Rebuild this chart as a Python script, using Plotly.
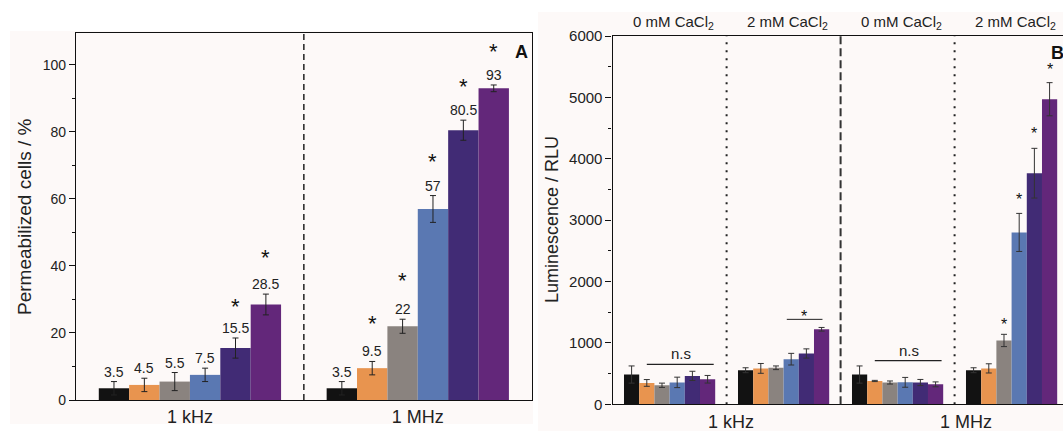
import plotly.graph_objects as go

# ---------------- data ----------------
series_names = ["Control", "Level 1", "Level 2", "Level 3", "Level 4", "Level 5"]
series_colors = ["#121212", "#e8944f", "#8a837f", "#5a78b2", "#412b75", "#63277a"]

# Panel A: permeabilized cells (%)
freq_labels = ["1 kHz", "1 MHz"]
perm_black = [3.5, 3.5]
perm_orange = [4.5, 9.5]
perm_gray = [5.5, 22]
perm_blue = [7.5, 57]
perm_navy = [15.5, 80.5]
perm_purple = [28.5, 93]
perm_err_black = [2.0, 2.0]
perm_err_orange = [2.0, 2.0]
perm_err_gray = [2.7, 2.1]
perm_err_blue = [2.0, 4.0]
perm_err_navy = [3.0, 3.0]
perm_err_purple = [3.1, 1.0]

# Panel B: luminescence (RLU)
lum_groups = ["1 kHz 0 mM", "1 kHz 2 mM", "1 MHz 0 mM", "1 MHz 2 mM"]
lum_black = [485, 555, 485, 555]
lum_orange = [348, 585, 380, 585]
lum_gray = [310, 595, 355, 1040]
lum_blue = [357, 735, 358, 2800]
lum_navy = [463, 828, 355, 3765]
lum_purple = [408, 1222, 325, 4970]
lum_err_black = [140, 40, 140, 40]
lum_err_orange = [55, 80, 10, 75]
lum_err_gray = [35, 30, 25, 100]
lum_err_blue = [85, 95, 80, 310]
lum_err_navy = [75, 75, 50, 405]
lum_err_purple = [62, 30, 40, 270]
top_labels = ["0 mM CaCl<sub>2</sub>", "2 mM CaCl<sub>2</sub>", "0 mM CaCl<sub>2</sub>", "2 mM CaCl<sub>2</sub>"]
freq_labels_b = ["1 kHz", "1 MHz"]

perm_vals = [perm_black, perm_orange, perm_gray, perm_blue, perm_navy, perm_purple]
perm_errs = [perm_err_black, perm_err_orange, perm_err_gray, perm_err_blue, perm_err_navy, perm_err_purple]
lum_vals = [lum_black, lum_orange, lum_gray, lum_blue, lum_navy, lum_purple]
lum_errs = [lum_err_black, lum_err_orange, lum_err_gray, lum_err_blue, lum_err_navy, lum_err_purple]

# ---------------- layout helpers ----------------
W, H = 1063, 431
FONT = "Arial, 'Liberation Sans', sans-serif"
BG = "#fdf9f8"


def px(x):
    return x / W


def py(y):
    return 1 - y / H


BARGAP = 0.2
NS = 6


def off(i):
    w = (1 - BARGAP) / NS
    return -(1 - BARGAP) / 2 + w * (i + 0.5)


fig = go.Figure()

for i in range(NS):
    fig.add_trace(go.Bar(
        x=freq_labels, y=perm_vals[i], name=series_names[i],
        marker=dict(color=series_colors[i], line=dict(width=0)),
        error_y=dict(type="data", array=perm_errs[i], color="#222222", thickness=1, width=3),
        xaxis="x", yaxis="y", showlegend=False))

for i in range(NS):
    fig.add_trace(go.Bar(
        x=lum_groups, y=lum_vals[i], name=series_names[i],
        marker=dict(color=series_colors[i], line=dict(width=0)),
        error_y=dict(type="data", array=lum_errs[i], color="#333333", thickness=1, width=3),
        xaxis="x2", yaxis="y2", showlegend=False))

annotations = []
# value labels panel A
for i in range(NS):
    for g in range(len(freq_labels)):
        annotations.append(dict(
            x=g + off(i), y=perm_vals[i][g] + perm_errs[i][g], xref="x", yref="y",
            text=f"{perm_vals[i][g]:g}", showarrow=False, xanchor="center", yanchor="bottom", yshift=0,
            font=dict(size=14, color="#222222", family=FONT)))

# stars panel A: (group, series, y)
stars_a = [(0, 4, 29.5), (0, 5, 44.1), (1, 1, 24.4), (1, 2, 37.2), (1, 3, 72.6), (1, 4, 94.9), (1, 5, 105.5)]
for g, i, y in stars_a:
    annotations.append(dict(x=g + off(i), y=y, xref="x", yref="y", text="*", showarrow=False,
                            xanchor="center", yanchor="middle", yshift=-5,
                            font=dict(size=22, color="#111111", family=FONT)))

# stars panel B
stars_b = [(1, 4, 1482), (3, 2, 1345), (3, 3, 3381), (3, 4, 4456), (3, 5, 5498)]
for g, i, y in stars_b:
    annotations.append(dict(x=g + off(i) + (0.0 if g == 3 else -0.02), y=y, xref="x2", yref="y2", text="*",
                            showarrow=False, xanchor="center", yanchor="middle", yshift=-3,
                            font=dict(size=16, color="#111111", family=FONT)))

# n.s labels
for g, y in [(0, 830), (2, 884)]:
    annotations.append(dict(x=g + 0.1, y=y, xref="x2", yref="y2", text="n.s", showarrow=False,
                            xanchor="center", yanchor="middle", font=dict(size=15, color="#222222", family=FONT)))

# top labels panel B
for g, t in enumerate(top_labels):
    annotations.append(dict(x=g + 0.03, y=py(22.7), xref="x2", yref="paper", text=t, showarrow=False,
                            xanchor="center", yanchor="middle", font=dict(size=15, color="#222222", family=FONT)))

# bottom labels panel B
for x, t in zip([0.535, 2.6], freq_labels_b):
    annotations.append(dict(x=x, y=py(422), xref="x2", yref="paper", text=t, showarrow=False,
                            xanchor="center", yanchor="middle", font=dict(size=18, color="#222222", family=FONT)))

# axis titles
annotations.append(dict(x=px(24), y=py(217), xref="paper", yref="paper", text="Permeabilized cells / %",
                        textangle=-90, showarrow=False, xanchor="center", yanchor="middle",
                        font=dict(size=19, color="#222222", family=FONT)))
annotations.append(dict(x=px(552), y=py(220), xref="paper", yref="paper", text="Luminescence / RLU",
                        textangle=-90, showarrow=False, xanchor="center", yanchor="middle",
                        font=dict(size=18, color="#222222", family=FONT)))
# panel letters
annotations.append(dict(x=px(521), y=py(52), xref="paper", yref="paper", text="<b>A</b>", showarrow=False,
                        xanchor="center", yanchor="middle", font=dict(size=18, color="#111111", family=FONT)))
annotations.append(dict(x=px(1057), y=py(53), xref="paper", yref="paper", text="<b>B</b>", showarrow=False,
                        xanchor="center", yanchor="middle", font=dict(size=18, color="#111111", family=FONT)))

shapes = [
    dict(type="rect", xref="paper", yref="paper", x0=px(10), x1=px(533), y0=py(424), y1=py(31),
         fillcolor=BG, line=dict(width=0), layer="below"),
    dict(type="rect", xref="paper", yref="paper", x0=px(538), x1=1, y0=0, y1=py(12),
         fillcolor=BG, line=dict(width=0), layer="below"),
    dict(type="line", xref="x", yref="y domain", x0=0.5, x1=0.5, y0=0, y1=1,
         line=dict(color="#222222", width=1.5, dash="6px,4px")),
    dict(type="line", xref="x2", yref="y2 domain", x0=1.5, x1=1.5, y0=0, y1=1,
         line=dict(color="#333333", width=2, dash="8px,4px")),
    dict(type="line", xref="x2", yref="y2 domain", x0=0.5, x1=0.5, y0=0, y1=1,
         line=dict(color="#222222", width=2, dash="2px,6px")),
    dict(type="line", xref="x2", yref="y2 domain", x0=2.5, x1=2.5, y0=0, y1=1,
         line=dict(color="#222222", width=2, dash="2px,6px")),
    # brackets panel B
    dict(type="line", xref="x2", yref="y2", x0=0 - 0.2, x1=0 + 0.387, y0=651, y1=651,
         line=dict(color="#222222", width=1.3)),
    dict(type="line", xref="x2", yref="y2", x0=2 - 0.2, x1=2 + 0.386, y0=710, y1=710,
         line=dict(color="#222222", width=1.3)),
    dict(type="line", xref="x2", yref="y2", x0=1 + 0.028, x1=1 + 0.341, y0=1384, y1=1384,
         line=dict(color="#222222", width=1.0)),
]

axis_common = dict(showgrid=False, zeroline=False, linecolor="#111111", linewidth=1.3, automargin=False,
                   tickcolor="#111111", tickfont=dict(size=14, color="#222222", family=FONT))

fig.update_layout(
    width=W, height=H,
    autosize=False,
    margin=dict(l=0, r=0, t=0, b=0, pad=0, autoexpand=False),
    paper_bgcolor="white", plot_bgcolor=BG,
    barmode="group", bargap=BARGAP, bargroupgap=0,
    font=dict(family=FONT, color="#222222"),
    annotations=annotations, shapes=shapes,
    xaxis=dict(axis_common, domain=[px(76), px(531.7)], range=[-0.5, 1.5], anchor="y",
               showline=True, mirror=True, ticks="", tickfont=dict(size=18, color="#222222", family=FONT)),
    yaxis=dict(axis_common, domain=[py(400), py(32.7)], range=[0, 109.6], anchor="x", dtick=20,
               showline=True, mirror=True, ticks="outside", ticklen=6,
               minor=dict(dtick=10, ticks="outside", ticklen=3, tickcolor="#111111")),
    yaxis3=dict(axis_common, overlaying="y", side="right", anchor="x", range=[0, 109.6], dtick=10,
                ticks="inside", ticklen=5, showticklabels=False, showline=False),
    xaxis2=dict(axis_common, domain=[px(612.6), 1], range=[-0.5, 3.451], anchor="y2",
                showline=True, mirror=True, ticks="", showticklabels=False),
    yaxis2=dict(axis_common, domain=[py(404.3), py(36)], range=[0, 6000], anchor="x2", dtick=1000,
                showline=True, ticks="outside", ticklen=6,
                tickfont=dict(size=15, color="#222222", family=FONT),
                minor=dict(dtick=500, ticks="outside", ticklen=3, tickcolor="#111111")),
    yaxis4=dict(axis_common, overlaying="y2", side="right", anchor="x2", range=[0, 6000], dtick=1000,
                ticks="inside", ticklen=5, showticklabels=False, showline=False),
)

fig.write_html(
    "out.html",
    config={"displayModeBar": False},
    post_script="document.body.style.margin='0';document.body.style.overflow='hidden';",
)
